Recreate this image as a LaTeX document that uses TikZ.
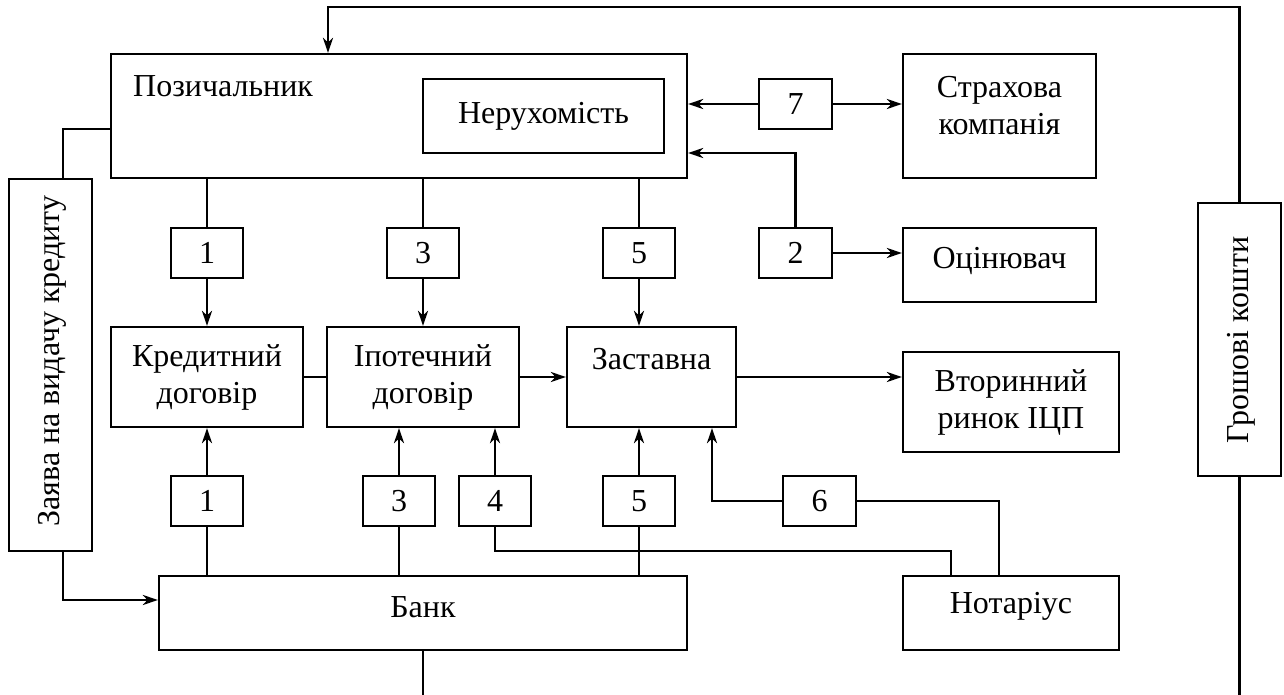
\documentclass[tikz,border=0pt]{standalone}
\usepackage{fontspec}
\setmainfont{Liberation Serif}
\usetikzlibrary{arrows.meta,calc}
\begin{document}
\begin{tikzpicture}[x=1pt,y=-1pt,
  box/.style={draw,line width=2.2pt,rectangle,inner sep=0pt,align=center,
    font=\fontsize{32}{37}\selectfont},
  txt/.style={inner sep=0pt,align=center,font=\fontsize{32}{37}\selectfont},
  ln/.style={line width=2.2pt},
  arr/.style={line width=2.6pt,-{Stealth[length=15pt,width=10pt,inset=4.5pt]}}]
\useasboundingbox[fill=white] (0,0) rectangle (1284,695);
% main boxes
\node[box,minimum width=576,minimum height=124] (poz) at (399,116) {};
\node[txt,anchor=west] (pozT) at (133,86) {Позичальник};
\node[box,minimum width=241,minimum height=74] (ner) at (543.5,116) {Нерухомість};
\node[box,minimum width=73,minimum height=50] (n7) at (795.5,104) {7};
\node[box,minimum width=193,minimum height=124] (strakh) at (999.5,116) {};
\node[txt] (strakhT) at (999.5,106) {Страхова\\компанія};
\node[box,minimum width=73,minimum height=50] (n2) at (795.5,253) {2};
\node[box,minimum width=193,minimum height=74] (otsin) at (999.5,265) {};
\node[txt] (otsinT) at (999.5,261) {Оцінювач};
\node[box,minimum width=72,minimum height=50] (t1) at (207,253) {1};
\node[box,minimum width=72,minimum height=50] (t3) at (423,253) {3};
\node[box,minimum width=72,minimum height=50] (t5) at (639,253) {5};
\node[box,minimum width=192,minimum height=100] (kred) at (207,377) {Кредитний\\договір};
\node[box,minimum width=192,minimum height=100] (ipot) at (423,377) {Іпотечний\\договір};
\node[box,minimum width=169,minimum height=100] (zast) at (651.5,377) {};
\node[txt] (zastT) at (651.5,359) {Заставна};
\node[box,minimum width=216,minimum height=100] (vtor) at (1011,402) {Вторинний\\ринок ІЦП};
\node[box,minimum width=72,minimum height=50] (b1) at (207,501) {1};
\node[box,minimum width=72,minimum height=50] (b3) at (399,501) {3};
\node[box,minimum width=72,minimum height=50] (b4) at (495,501) {4};
\node[box,minimum width=72,minimum height=50] (b5) at (639,501) {5};
\node[box,minimum width=73,minimum height=50] (b6) at (819.5,501) {6};
\node[box,minimum width=528,minimum height=74] (bank) at (423,613) {};
\node[txt] (bankT) at (423,607) {Банк};
\node[box,minimum width=216,minimum height=74] (notar) at (1011,613) {};
\node[txt] (notarT) at (1011,606) {Нотаріус};
\node[box,minimum width=83,minimum height=372] (zay) at (50.5,365) {};
\node[txt,rotate=90] (zayT) at (52,361) {Заява на видачу кредиту};
\node[box,minimum width=83,minimum height=273] (grosh) at (1239.5,339.5) {};
\node[txt,rotate=90] (groshT) at (1241,340) {Грошові кошти};
% coordinates
\coordinate (topR) at (1239.5,7);
\coordinate (topL) at (328,7);
\coordinate (gBot) at (1239.5,695);
\coordinate (bBot) at (423,695);
\coordinate (zTop) at (63,129);
\coordinate (zBot) at (63,600);
\coordinate (c2) at (795.5,153);
\coordinate (c4) at (495,551);
\coordinate (c4r) at (951,551);
\coordinate (c6l) at (712,501);
\coordinate (c6r) at (999,501);
% connectors
\draw[arr] (grosh.north) -- (topR) -- (topL) -- (topL |- poz.north);
\draw[ln] (grosh.south) -- (gBot);
\draw[ln] (bank.south) -- (bBot);
\draw[ln] (zTop |- zay.north) -- (zTop) -- (zTop -| poz.west);
\draw[arr] (zBot |- zay.south) -- (zBot) -- (zBot -| bank.west);
\draw[arr] (n7.west) -- (n7.west -| poz.east);
\draw[arr] (n7.east) -- (n7.east -| strakh.west);
\draw[arr] (n2.north) -- (c2) -- (c2 -| poz.east);
\draw[arr] (n2.east) -- (n2.east -| otsin.west);
\draw[ln] (t1.north |- poz.south) -- (t1.north);
\draw[ln] (t3.north |- poz.south) -- (t3.north);
\draw[ln] (t5.north |- poz.south) -- (t5.north);
\draw[arr] (t1.south) -- (t1.south |- kred.north);
\draw[arr] (t3.south) -- (t3.south |- ipot.north);
\draw[arr] (t5.south) -- (t5.south |- zast.north);
\draw[ln] (kred.east) -- (ipot.west);
\draw[arr] (ipot.east) -- (zast.west);
\draw[arr] (zast.east) -- (zast.east -| vtor.west);
\draw[arr] (b1.north) -- (b1.north |- kred.south);
\draw[arr] (b3.north) -- (b3.north |- ipot.south);
\draw[arr] (b4.north) -- (b4.north |- ipot.south);
\draw[arr] (b5.north) -- (b5.north |- zast.south);
\draw[ln] (b1.south) -- (b1.south |- bank.north);
\draw[ln] (b3.south) -- (b3.south |- bank.north);
\draw[ln] (b5.south) -- (b5.south |- bank.north);
\draw[ln] (b4.south) -- (c4) -- (c4r) -- (c4r |- notar.north);
\draw[arr] (b6.west) -- (c6l) -- (c6l |- zast.south);
\draw[ln] (b6.east) -- (c6r) -- (c6r |- notar.north);
\end{tikzpicture}
\end{document}
